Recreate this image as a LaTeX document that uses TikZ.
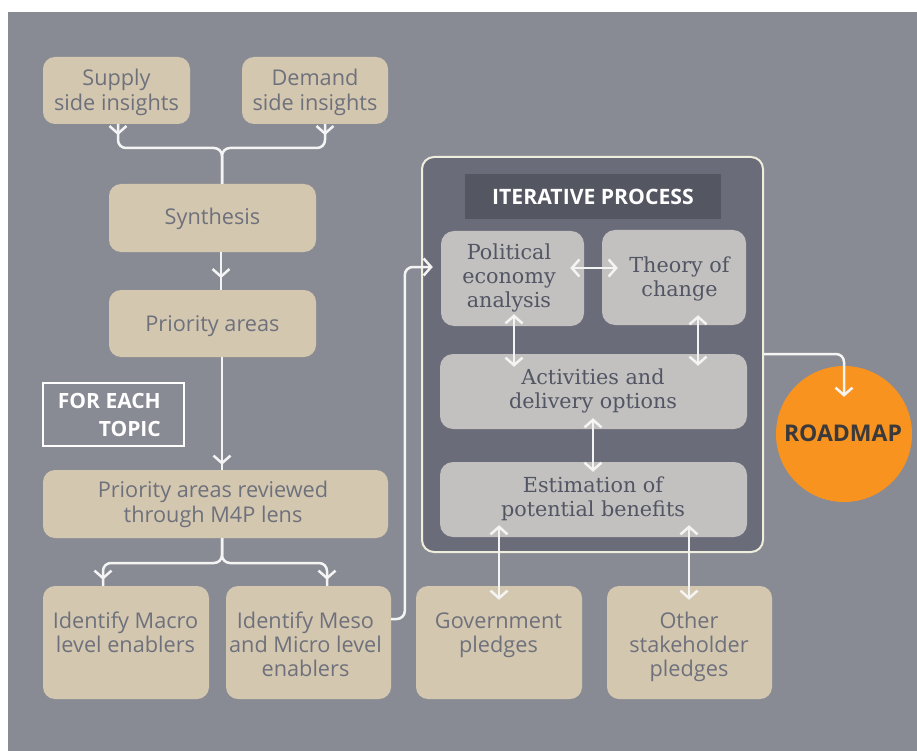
\documentclass[tikz,border=0pt]{standalone}
\usepackage{fontspec}
\setmainfont{Open Sans}
\newfontfamily\serifface{DejaVu Serif}
\usetikzlibrary{arrows.meta,calc,decorations.markings}

\definecolor{bggray}{HTML}{898B94}
\definecolor{boxbeige}{HTML}{D4C7B0}
\definecolor{beigetext}{HTML}{6E717C}
\definecolor{lightbox}{HTML}{C2C1BF}
\definecolor{lighttext}{HTML}{525563}
\definecolor{panelfill}{HTML}{6B6C79}
\definecolor{panelline}{HTML}{EEEEDD}
\definecolor{titlefill}{HTML}{545662}
\definecolor{linewhite}{HTML}{F4F4F4}
\definecolor{roadorange}{HTML}{F7931E}
\definecolor{roadtext}{HTML}{3A3A3C}

% multi-line labels whose baseline is the first line
\newcommand{\ml}[1]{\begin{tabular}[t]{@{}c@{}}#1\end{tabular}}
\newcommand{\mlr}[1]{\begin{tabular}[t]{@{}r@{}}#1\end{tabular}}

\begin{document}
\begin{tikzpicture}[x=1pt,y=-1pt,
  >={Straight Barb[length=7.5pt,width=17pt]},
  bbox/.style={rectangle,rounded corners=12,fill=boxbeige,inner sep=0},
  gbox/.style={rectangle,rounded corners=13,fill=lightbox,inner sep=0},
  btext/.style={inner sep=0,anchor=base,text=beigetext,font=\fontsize{21.7}{25}\selectfont},
  gtext/.style={inner sep=0,anchor=base,text=lighttext,font=\serifface\fontsize{20.7}{24}\selectfont},
  conn/.style={draw=linewhite,line width=2.5,rounded corners=8},
  tipat/.style={postaction={decorate,decoration={markings,mark=at position #1 with {\arrow{>}}}}}]

\useasboundingbox (0,0) rectangle (917,751);
\fill[white] (0,0) rectangle (917,751);
\fill[bggray] (8,12) rectangle (917,751);

% left column
\node[bbox,minimum width=147,minimum height=67] (supply) at (116.5,90.5) {};
\node[btext] (supply-t) at (116.5,86) {\ml{Supply\\side insights}};
\node[bbox,minimum width=146,minimum height=67] (demand) at (315,90.5) {};
\node[btext] (demand-t) at (315,86) {\ml{Demand\\side insights}};
\node[bbox,minimum width=207,minimum height=68] (synth) at (212.5,218) {};
\node[btext] (synth-t) at (212.5,225) {Synthesis};
\node[bbox,minimum width=207,minimum height=67] (prio) at (212.5,323.5) {};
\node[btext] (prio-t) at (212.5,331) {Priority areas};

\node[draw=white,line width=2.5,inner sep=0,minimum width=141,minimum height=63] (foreach) at (113.5,414.5) {};
\node[inner sep=0,anchor=base east,text=white,font=\bfseries\fontsize{21}{28}\selectfont] (foreach-t) at (161,408) {\mlr{FOR EACH\\TOPIC}};

\node[bbox,minimum width=345,minimum height=68] (review) at (215.5,504) {};
\node[btext] (review-t) at (213,497.5) {\ml{Priority areas reviewed\\through M4P lens}};

\node[bbox,minimum width=166,minimum height=113] (macro) at (126,642.5) {};
\node[btext,font=\fontsize{21.7}{24}\selectfont] (macro-t) at (125.5,628) {\ml{Identify Macro\\level enablers}};
\node[bbox,minimum width=165,minimum height=113] (meso) at (308.5,642.5) {};
\node[btext,font=\fontsize{21.7}{24}\selectfont] (meso-t) at (305.5,628) {\ml{Identify Meso\\and Micro level\\enablers}};
\node[bbox,minimum width=166,minimum height=113] (gov) at (499,642.5) {};
\node[btext,font=\fontsize{21.7}{24}\selectfont] (gov-t) at (498.5,628) {\ml{Government\\pledges}};
\node[bbox,minimum width=165,minimum height=113] (other) at (689.5,642.5) {};
\node[btext,font=\fontsize{21.7}{24}\selectfont] (other-t) at (689,628) {\ml{Other\\stakeholder\\pledges}};

% iterative process panel
\node[rectangle,rounded corners=12,fill=panelfill,draw=panelline,line width=2,inner sep=0,
      minimum width=341,minimum height=395] (outer) at (592.5,354.5) {};
\node[rectangle,fill=titlefill,inner sep=0,minimum width=256,minimum height=45] (title) at (593,196.5) {};
\node[inner sep=0,anchor=base,text=white,font=\bfseries\fontsize{21.2}{24}\selectfont] (title-t) at (593,205) {ITERATIVE PROCESS};

\node[gbox,minimum width=143,minimum height=95] (pol) at (512.5,278.5) {};
\node[gtext] (pol-t) at (509,259) {\ml{Political\\economy\\analysis}};
\node[gbox,minimum width=144,minimum height=95] (theory) at (674,277.5) {};
\node[gtext] (theory-t) at (679.5,272) {\ml{Theory of\\change}};
\node[gbox,minimum width=307,minimum height=75] (act) at (593.5,391.5) {};
\node[gtext] (act-t) at (593,384) {\ml{Activities and\\delivery options}};
\node[gbox,minimum width=307,minimum height=75] (est) at (593.5,499.5) {};
\node[gtext] (est-t) at (593,492) {\ml{Estimation of\\potential benefits}};

\node[circle,fill=roadorange,inner sep=0,minimum size=136] (roadmap) at (844,434) {};
\node[inner sep=0,anchor=base,text=roadtext,font=\bfseries\fontsize{23}{26}\selectfont] (roadmap-t) at (843,441) {ROADMAP};

% connectors
\coordinate (j1) at (222,148);
\coordinate (j2) at (222,563);
\draw[conn,tipat=11pt] ($(supply.south)+(1.5,0)$) |- (j1) -- (j1 |- synth.north);
\draw[conn,tipat=11pt] ($(demand.south)+(10,0)$) |- (j1) -- (j1 |- synth.north);
\draw[conn,tipat=26pt] ($(synth.south)+(8.5,0)$) -- ($(prio.north)+(8.5,0)$);
\draw[conn,tipat=-5pt] ($(prio.south)+(9.5,0)$) -- ($(review.north)+(6.5,0)$);
\draw[conn,tipat=-6pt] ($(review.south)+(6.5,0)$) -- (j2) -| ($(macro.north)+(-23,0)$);
\draw[conn,tipat=-6pt] ($(review.south)+(6.5,0)$) -- (j2) -| ($(meso.north)+(18.5,0)$);
\draw[conn,->] ($(meso.east)+(0,-23.5)$) -| ($(pol.west)+(-36,-11.5)$) -- ($(pol.west)+(-8,-11.5)$);

\draw[conn,<->] ($(pol.east)+(-14,-10.5)$) -- ($(theory.west)+(16,-9.5)$);
\draw[conn,<->] ($(pol.south)+(1.5,-12)$) -- ($(act.north)+(-79.5,13)$);
\draw[conn,<->] ($(theory.south)+(24,-10)$) -- ($(act.north)+(104.5,12)$);
\draw[conn,<->] ($(act.south)+(-0.5,-11)$) -- ($(est.north)+(-0.5,10)$);
\draw[conn,<->] ($(est.south)+(-94.5,-12)$) -- ($(gov.north)+(0,14)$);
\draw[conn,<->] ($(est.south)+(95.5,-12)$) -- ($(other.north)+(-0.5,14)$);
\draw[conn,->] ($(outer.east)+(0,-0.5)$) -| ($(roadmap.north)+(0,31)$);
\end{tikzpicture}
\end{document}
